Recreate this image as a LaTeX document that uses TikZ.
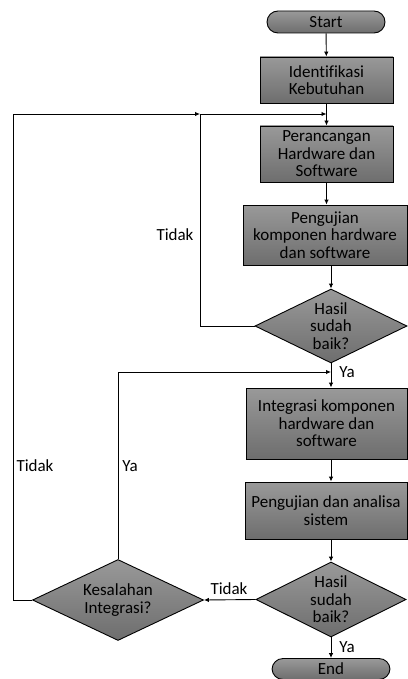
\documentclass[tikz,border=0pt]{standalone}
\usepackage{fontspec}
\setmainfont[Ligatures=NoCommon]{Carlito}
\usetikzlibrary{shapes.geometric,arrows.meta}

\begin{document}
\begin{tikzpicture}[x=1pt, y=-1pt, line width=0.9pt,
            font=\fontsize{17}{17.5}\selectfont,
            box/.style = {shape=rectangle, draw, align=center, inner sep=0pt,
                top color=gray!80, bottom color=gray!86!black},
            term/.style = {box, rounded corners=11pt,
                minimum width=118pt, minimum height=22pt},
            dec/.style = {shape=diamond, draw, align=center, inner sep=0pt,
                aspect=2, top color=gray!80, bottom color=gray!86!black},
            lbl/.style = {inner sep=0pt},
            arr/.style = {-{Latex[length=5pt,width=4.5pt]}}]

            \useasboundingbox (0,0) rectangle (407,679);

            \node[term] (start) at (326,22) {Start};
            \node[box, minimum width=133pt, minimum height=46pt] (ident) at (326.5,80)
                {Identifikasi\\Kebutuhan};
            \node[box, minimum width=133pt, minimum height=56pt] (peran) at (326.5,154)
                {Perancangan\\Hardware dan\\Software};
            \node[box, minimum width=164pt, minimum height=60pt] (uji1) at (325,235)
                {Pengujian\\komponen hardware\\dan software};
            \node[dec, minimum width=152pt, minimum height=74pt] (dec1) at (331,326)
                {Hasil\\sudah\\baik?};
            \node[box, minimum width=161pt, minimum height=71pt] (integ) at (326.5,423.5)
                {Integrasi komponen\\hardware dan\\software};
            \node[box, minimum width=162pt, minimum height=57pt] (uji2) at (326,510.5)
                {Pengujian dan analisa\\sistem};
            \node[dec, minimum width=150pt, minimum height=75pt] (dec2) at (331,599.5)
                {Hasil\\sudah\\baik?};
            \node[dec, minimum width=171pt, minimum height=81pt] (kes) at (118,600)
                {Kesalahan\\Integrasi?};
            \node[term, minimum height=21pt] (end) at (331,669) {End};

            % titik pertemuan garis balik
            \coordinate (j1) at (326.5,114);
            \coordinate (lp1) at (200,114);
            \coordinate (lp2) at (13,114);
            \coordinate (j2) at (331,372);

            \draw[arr] (start) -- (ident);
            \draw[arr] (ident.south) -- (peran.north);
            \draw[arr] (peran.south) -- (peran.south |- uji1.north);
            \draw[arr] (uji1.south -| dec1.north) -- (dec1.north);
            \draw[arr] (dec1.west) -| (lp1) -- (j1);
            \draw[arr] (kes.west) -| (lp2) -- (lp1);
            \draw[arr] (dec1.south) -- (integ.north -| dec1.south);
            \draw[arr] (kes.north) |- (j2);
            \draw[arr] (integ.south -| dec1.south) -- (uji2.north -| dec1.south);
            \draw[arr] (uji2.south -| dec2.north) -- (dec2.north);
            \draw[arr] (dec2.west) -- (kes.east);
            \draw[arr] (dec2.south) -- (end.north -| dec2.south);

            \node[lbl] (tdk1) at (175,235) {Tidak};
            \node[lbl, anchor=west] (ya1) at (339,372) {Ya};
            \node[lbl] (tdk2) at (35,466) {Tidak};
            \node[lbl] (ya2) at (130,466) {Ya};
            \node[lbl] (tdk3) at (229,589) {Tidak};
            \node[lbl, anchor=west] (ya3) at (339,647) {Ya};

        \end{tikzpicture}
\end{document}
